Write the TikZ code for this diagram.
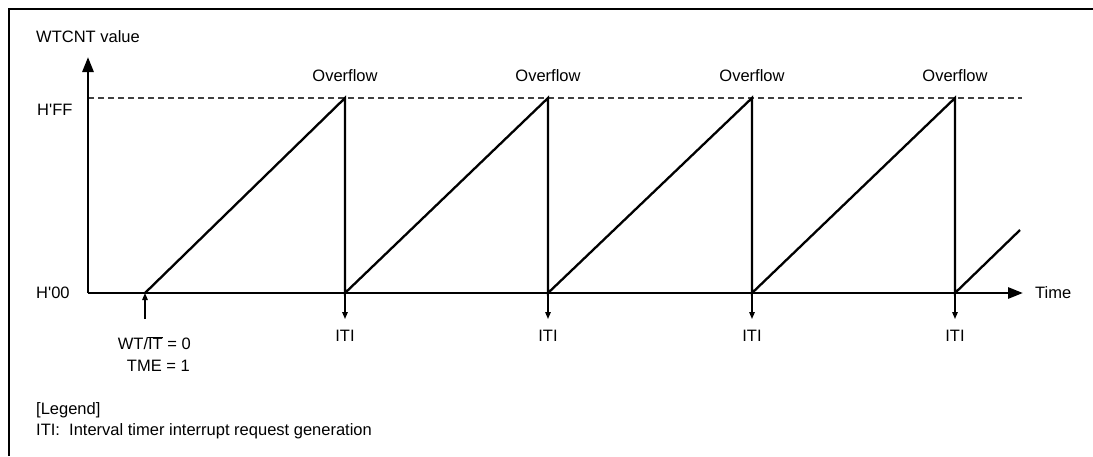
\documentclass[tikz,border=0pt]{standalone}
\usepackage{fontspec}
\setmainfont{Liberation Sans}
\usetikzlibrary{arrows.meta}
\begin{document}
\begin{tikzpicture}[x=1pt,y=-1pt,
  every node/.style={font=\fontsize{16.5}{19}\selectfont, inner sep=0pt},
  axis/.style={line width=2.8pt, -{Triangle[length=15pt,width=11pt]}},
  ramp/.style={line width=2.3pt, line join=miter},
  marker/.style={line width=1.4pt, -{Triangle[length=7pt,width=5.5pt]}},
  level/.style={line width=1.1pt, dash pattern=on 6pt off 4pt, black!75}]
\useasboundingbox (0,0) rectangle (1093,456);
\draw[line width=2.4pt] (9,456) -- (9,9) -- (1093,9);

% axes
\coordinate (O) at (88,293);
\coordinate (ytip) at (88,57);
\coordinate (xtip) at (1023,293);
\coordinate (ffL) at (88,98);
\coordinate (ffR) at (1022,98);
\draw[level] (ffL) -- (ffR);
\draw[axis] (O) -- (ytip);
\draw[axis] (O) -- (xtip);

\node[anchor=west] (ylabel) at (36,37) {WTCNT value};
\node[anchor=west] (hff) at (37,110) {H\textquotesingle FF};
\node[anchor=west] (h00) at (36,293) {H\textquotesingle 00};
\node[anchor=west] (time) at (1035,293) {Time};

% sawtooth
\coordinate (s0) at (145,293);
\foreach \i/\x in {1/345,2/548,3/752,4/955}{
  \coordinate (t\i) at (\x,98);
  \coordinate (b\i) at (\x,293);
  \coordinate (a\i) at (\x,319);
  \node (of\i) at (\x,76) {Overflow};
  \node (iti\i) at (\x,336) {ITI};
}
\coordinate (end) at (1020,230);
\draw[ramp] (s0) -- (t1) -- (b1) -- (t2) -- (b2) -- (t3) -- (b3) -- (t4) -- (b4) -- (end);

\foreach \i in {1,...,4}{
  \draw[marker] (b\i) -- (a\i);
}

% start marker
\coordinate (st) at (145,319);
\draw[marker] (st) -- (s0);
\node[anchor=east] (wt) at (191,343) {WT/$\overline{\mbox{IT}}$ = 0};
\node[anchor=east] (tme) at (190,366) {TME = 1};

% legend
\node[anchor=west] (leg) at (36,410) {[Legend]};
\node[anchor=west] (legiti) at (36,431) {ITI:\ \ Interval timer interrupt request generation};
\end{tikzpicture}
\end{document}
